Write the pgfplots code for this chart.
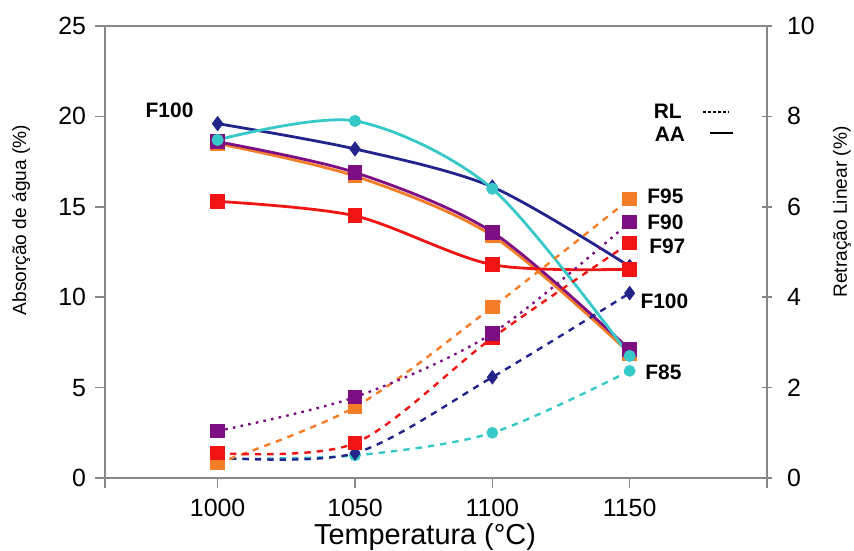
\documentclass[border=0pt]{standalone}
\usepackage{fontspec}
\setmainfont{Liberation Sans}
\usepackage{pgfplots}
\pgfplotsset{compat=1.18}
\usetikzlibrary{calc}

\definecolor{axgray}{RGB}{135,135,135}
\definecolor{cnavy}{RGB}{35,35,140}
\definecolor{ccyan}{RGB}{55,200,200}
\definecolor{cpurple}{RGB}{125,15,130}
\definecolor{corange}{RGB}{245,125,40}
\definecolor{cred}{RGB}{240,20,20}

\pgfplotsset{
  base/.style={
    scale only axis, width=331bp, height=226bp,
    xmin=959, xmax=1200,
    axis line style={draw=axgray, line width=0.8bp},
    every tick/.style={draw=axgray, line width=0.8bp},
    major tick length=5bp,
    ticklabel style={font=\fontsize{12.5}{14}\selectfont},
    /pgf/number format/assume math mode=true,
    /pgf/number format/1000 sep={},
  },
  aa/.style={line width=1.4bp, smooth, mark options={solid}},
  rl/.style={line width=1.2bp, smooth, dash pattern=on 3.2bp off 3bp, mark options={solid}},
}

\begin{document}
\begin{tikzpicture}
% Absorção de água (eixo esquerdo, linhas contínuas)
\begin{axis}[base, name=ax,
  ymin=0, ymax=25, ytick={0,5,...,25},
  xtick={1000,1050,1100,1150},
  extra x ticks={959,1200}, extra x tick labels={},
  xtick pos=bottom, ytick pos=left, tick align=outside,
  xticklabel style={yshift=-2bp},
  yticklabel style={xshift=-1bp},
  clip=false,
]
\addplot[aa, cnavy, mark=diamond*, mark size=2.7bp] coordinates
  {(1000,19.6)(1050,18.2)(1100,16.1)(1150,11.7)};
\addplot[aa, corange, mark=square*, mark size=3bp] coordinates
  {(1000,18.5)(1050,16.7)(1100,13.4)(1150,6.9)};
\addplot[aa, cpurple, mark=square*, mark size=3bp] coordinates
  {(1000,18.6)(1050,16.9)(1100,13.6)(1150,7.1)};
\addplot[aa, cred, mark=square*, mark size=3bp] coordinates
  {(1000,15.3)(1050,14.5)(1100,11.8)(1150,11.55)};
\addplot[aa, ccyan, mark=*, mark size=2.3bp] coordinates
  {(1000,18.7)(1050,19.75)(1100,16.0)(1150,6.75)};

\node[font=\bfseries\fontsize{10.5}{12}\selectfont] at (axis cs:982.5,20.35) {F100};
\node[font=\bfseries\fontsize{10.5}{12}\selectfont, anchor=east] at (axis cs:1171.5,20.3) {RL};
\draw[black, line width=0.9bp, dash pattern=on 1.5bp off 1bp] (axis cs:1176.8,20.25) -- (axis cs:1186.3,20.25);
\node[font=\bfseries\fontsize{10.5}{12}\selectfont, anchor=east] at (axis cs:1172.7,19.0) {AA};
\draw[black, line width=0.9bp] (axis cs:1179.3,19.1) -- (axis cs:1187.7,19.1);
\node[font=\bfseries\fontsize{10.5}{12}\selectfont, anchor=west, inner sep=0pt] at (axis cs:1156.3,15.6) {F95};
\node[font=\bfseries\fontsize{10.5}{12}\selectfont, anchor=west, inner sep=0pt] at (axis cs:1156.3,14.16) {F90};
\node[font=\bfseries\fontsize{10.5}{12}\selectfont, anchor=west, inner sep=0pt] at (axis cs:1157,12.83) {F97};
\node[font=\bfseries\fontsize{10.5}{12}\selectfont, anchor=west, inner sep=0pt] at (axis cs:1153.8,9.8) {F100};
\node[font=\bfseries\fontsize{10.5}{12}\selectfont, anchor=west, inner sep=0pt] at (axis cs:1155.6,5.86) {F85};
\end{axis}

% Retração linear (eixo direito, linhas tracejadas)
\begin{axis}[base,
  ymin=0, ymax=10, ytick={0,2,...,10},
  axis x line=none, axis y line*=right,
  ytick align=center,
  yticklabel style={xshift=4bp},
]
\addplot[rl, ccyan, mark=*, mark size=2.3bp] coordinates
  {(1000,0.42)(1050,0.5)(1100,1.0)(1150,2.37)};
\addplot[rl, cnavy, mark=diamond*, mark size=2.7bp] coordinates
  {(1000,0.45)(1050,0.55)(1100,2.23)(1150,4.09)};
\addplot[rl, corange, mark=square*, mark size=3bp] coordinates
  {(1000,0.33)(1050,1.57)(1100,3.78)(1150,6.17)};
\addplot[rl, cred, mark=square*, mark size=3bp] coordinates
  {(1000,0.55)(1050,0.77)(1100,3.1)(1150,5.2)};
\addplot[rl, cpurple, dash pattern=on 1.3bp off 2.6bp, mark=square*, mark size=3bp] coordinates
  {(1000,1.04)(1050,1.79)(1100,3.2)(1150,5.66)};
\end{axis}

\node[rotate=90, font=\fontsize{9.6}{11}\selectfont] at ($(ax.west)+(-42bp,16bp)$) {Absorção de água (\%)};
\node[rotate=90, font=\fontsize{9.6}{11}\selectfont] at ($(ax.east)+(37.5bp,20bp)$) {Retração Linear (\%)};
\node[font=\fontsize{14.5}{17}\selectfont] at ($(ax.south)+(-5.5bp,-29.5bp)$) {Temperatura (\textdegree C)};

\pgfresetboundingbox
\path[use as bounding box] ($(ax.south west)+(-52.5bp,-36.5bp)$) rectangle ($(ax.north east)+(43.5bp,13bp)$);
\end{tikzpicture}
\end{document}
